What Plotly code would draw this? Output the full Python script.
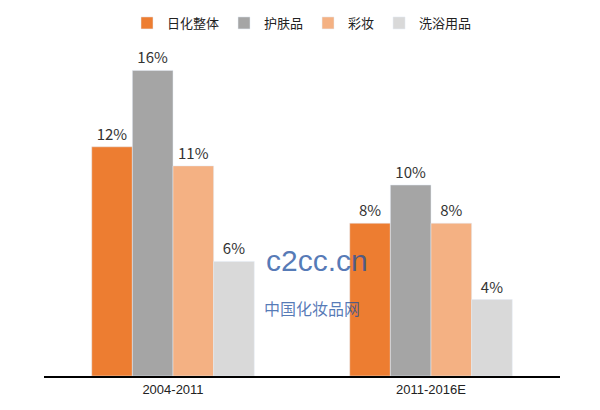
import plotly.graph_objects as go

categories = ["2004-2011", "2011-2016E"]
series_names = ["日化整体", "护肤品", "彩妆", "洗浴用品"]
values = [[12, 8], [16, 10], [11, 8], [6, 4]]
colors = ["#ED7D31", "#A5A5A5", "#F4B183", "#D9D9D9"]

fig = go.Figure()
for name, vals, col in zip(series_names, values, colors):
    fig.add_trace(go.Bar(
        x=categories, y=vals, name=name, marker_color=col,
        text=[f"{v}%" for v in vals], textposition="outside",
        textfont=dict(size=15, color="#333"), cliponaxis=False,
    ))

fig.update_layout(
    width=600, height=410,
    margin=dict(l=36, r=48, t=0, b=42),
    plot_bgcolor="white", paper_bgcolor="white",
    barmode="group", bargap=0.37, bargroupgap=0,
    font=dict(family="Noto Sans CJK SC, Arial", size=13, color="#222"),
    legend=dict(orientation="h", x=0.5, xanchor="center", y=1.02, yanchor="top",
                font=dict(size=13), itemwidth=30, tracegroupgap=0),
    xaxis=dict(showline=True, linecolor="black", linewidth=2, ticks="",
               tickfont=dict(size=13, family="Arial Black, Arial", color="#222")),
    yaxis=dict(visible=False, range=[0, 18.9]),
    annotations=[
        dict(text="c2cc.cn", x=0.53, y=0.27, xref="paper", yref="paper", showarrow=False,
             font=dict(size=30, color="rgba(30,80,160,0.75)", family="Arial")),
        dict(text="中国化妆品网", x=0.52, y=0.15, xref="paper", yref="paper", showarrow=False,
             font=dict(size=16, color="rgba(30,80,160,0.75)", family="Noto Sans CJK SC")),
    ],
)

fig.write_html("out.html")
